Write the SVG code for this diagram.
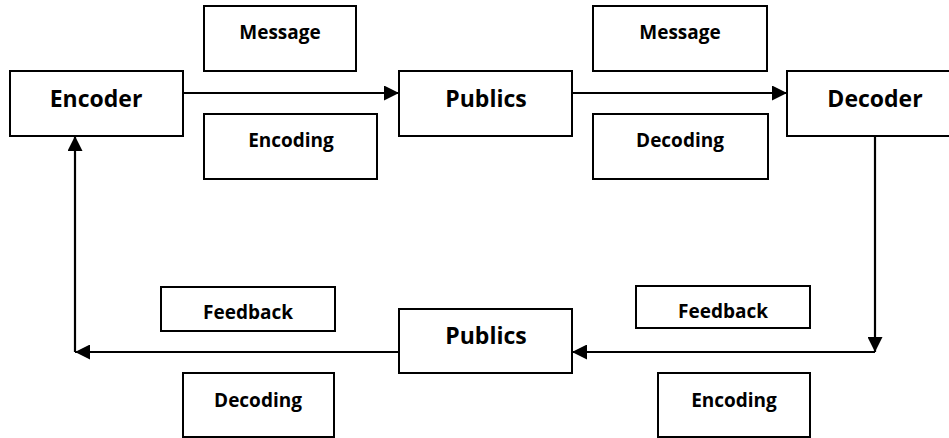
<svg xmlns="http://www.w3.org/2000/svg" width="949" height="438" viewBox="0 0 949 438">
<style>
rect{fill:#fff;stroke:#000;stroke-width:2}
text{font-family:"Open Sans","Liberation Sans",sans-serif;font-weight:700;fill:#000;text-anchor:middle}
.big{font-size:23px}
.sm{font-size:19px}
.c{fill:none;stroke:#000;stroke-width:2.2}
</style>
<defs>
<marker id="ah" markerWidth="15" markerHeight="15" viewBox="0 0 15 15" refX="15" refY="7.5" orient="auto" markerUnits="userSpaceOnUse">
<path d="M0,0 L15,7.5 L0,15 Z" fill="#000"/>
</marker>
</defs>
<rect width="949" height="438" style="fill:#fff;stroke:none"/>
<g id="connectors">
<line class="c" x1="183" y1="93" x2="399" y2="93" marker-end="url(#ah)"/>
<line class="c" x1="572" y1="93" x2="787" y2="93" marker-end="url(#ah)"/>
<polyline class="c" points="875,136 875,352" marker-end="url(#ah)"/>
<line class="c" x1="875" y1="352" x2="572" y2="352" marker-end="url(#ah)"/>
<line class="c" x1="399" y1="352" x2="75" y2="352" marker-end="url(#ah)"/>
<line class="c" x1="75" y1="352" x2="75" y2="136" marker-end="url(#ah)"/>
</g>
<g id="encoder"><rect x="10" y="71" width="173" height="65"/><text class="big" x="96" y="107">Encoder</text></g>
<g id="publics-top"><rect x="399" y="71" width="173" height="65"/><text class="big" x="486" y="107">Publics</text></g>
<g id="decoder"><rect x="787" y="71" width="180" height="65"/><text class="big" x="875" y="107">Decoder</text></g>
<g id="publics-bottom"><rect x="399" y="309" width="173" height="64"/><text class="big" x="486" y="344">Publics</text></g>
<g id="message-1"><rect x="204" y="6" width="152" height="65"/><text class="sm" x="280" y="39">Message</text></g>
<g id="encoding-1"><rect x="204" y="114" width="173" height="65"/><text class="sm" x="291" y="147">Encoding</text></g>
<g id="message-2"><rect x="593" y="6" width="174" height="65"/><text class="sm" x="680" y="39">Message</text></g>
<g id="decoding-1"><rect x="593" y="114" width="175" height="65"/><text class="sm" x="680" y="147">Decoding</text></g>
<g id="feedback-1"><rect x="161" y="287" width="174" height="44"/><text class="sm" x="248" y="319">Feedback</text></g>
<g id="decoding-2"><rect x="183" y="373" width="151" height="64"/><text class="sm" x="258" y="407">Decoding</text></g>
<g id="feedback-2"><rect x="636" y="286" width="174" height="42"/><text class="sm" x="723" y="318">Feedback</text></g>
<g id="encoding-2"><rect x="658" y="373" width="152" height="64"/><text class="sm" x="734" y="407">Encoding</text></g>
</svg>
